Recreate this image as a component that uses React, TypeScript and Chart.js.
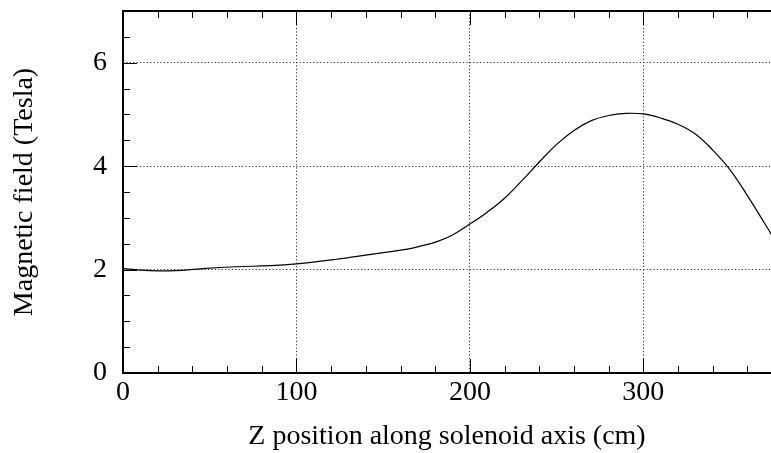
import { useEffect, useRef } from "react";
import { Chart, registerables } from "chart.js";

Chart.register(...registerables);

// Field strength on the solenoid axis, sampled along z (cm)
const zPositions = [
  0, 10, 20, 30, 46, 65, 85, 100, 123, 142, 161, 171, 181, 190, 200, 210, 220,
  230, 240, 250, 260, 270, 280, 290, 300, 310, 320, 330, 340, 350, 360, 370,
  374,
];
const fieldTesla = [
  2.02, 1.99, 1.975, 1.978, 2.02, 2.055, 2.075, 2.11, 2.2, 2.29, 2.38, 2.45,
  2.54, 2.67, 2.88, 3.11, 3.38, 3.72, 4.08, 4.42, 4.69, 4.88, 4.98, 5.02, 5.01,
  4.93, 4.81, 4.62, 4.31, 3.93, 3.43, 2.89, 2.67,
];

// Axis ranges and tick spacing
const xRange = [0, 373.6];
const yRange = [0, 7];
const xMinorStep = 20;
const xMajorStep = 100;
const yMinorStep = 0.5;
const yMajorStep = 2;

const xTitle = "Z position along solenoid axis (cm)";
const yTitle = "Magnetic field (Tesla)";

const serif = "'Liberation Serif', 'Times New Roman', Times, serif";
const labelFont = { family: serif, size: 28, lineHeight: 1.2 };

const isMultiple = (v: number, step: number) =>
  Math.abs(v / step - Math.round(v / step)) < 1e-6;

// Frame (left, top, bottom) with inward major/minor ticks, gnuplot style
const framePlugin = {
  id: "frame",
  afterDatasetsDraw(chart: any) {
    const { ctx, chartArea } = chart;
    const xs = chart.scales.x;
    const ys = chart.scales.y;
    const { left, right, top, bottom } = chartArea;
    ctx.save();
    ctx.strokeStyle = "#000";

    // ticks
    ctx.lineWidth = 1;
    ctx.beginPath();
    for (let v = xRange[0]; v <= xRange[1] + 1e-6; v += xMinorStep) {
      const px = Math.round(xs.getPixelForValue(v)) + 0.5;
      const len = isMultiple(v, xMajorStep) ? 14 : 7;
      ctx.moveTo(px, bottom);
      ctx.lineTo(px, bottom - len);
      ctx.moveTo(px, top);
      ctx.lineTo(px, top + len);
    }
    for (let v = yRange[0]; v <= yRange[1] + 1e-6; v += yMinorStep) {
      const py = Math.round(ys.getPixelForValue(v)) + 0.5;
      const len = isMultiple(v, yMajorStep) ? 14 : 7;
      ctx.moveTo(left, py);
      ctx.lineTo(left + len, py);
    }
    ctx.stroke();

    // frame lines
    ctx.lineWidth = 2;
    ctx.beginPath();
    ctx.moveTo(right + 2, top);
    ctx.lineTo(left, top);
    ctx.lineTo(left, bottom);
    ctx.lineTo(right + 2, bottom);
    ctx.stroke();
    ctx.restore();
  },
};

export default function App() {
  const canvasRef = useRef<HTMLCanvasElement | null>(null);

  useEffect(() => {
    const canvas = canvasRef.current;
    if (!canvas) return;

    const points = zPositions.map((z, i) => ({ x: z, y: fieldTesla[i] }));

    const chart = new Chart(canvas, {
      type: "line",
      data: {
        datasets: [
          {
            data: points,
            borderColor: "#000",
            borderWidth: 1.2,
            pointRadius: 0,
            fill: false,
            tension: 0.4,
          },
        ],
      },
      options: {
        animation: false,
        responsive: false,
        maintainAspectRatio: false,
        layout: { padding: { top: 11, right: 0, bottom: 0, left: 0 } },
        plugins: {
          legend: { display: false },
          tooltip: { enabled: false },
        },
        scales: {
          x: {
            type: "linear",
            min: xRange[0],
            max: xRange[1],
            afterFit: (s: any) => {
              s.height = 80;
              s.paddingLeft = 0;
              s.paddingRight = 0;
            },
            ticks: {
              stepSize: xMinorStep,
              autoSkip: false,
              maxRotation: 0,
              minRotation: 0,
              includeBounds: false,
              padding: 3,
              color: "#000",
              font: labelFont,
              callback: (v: any) =>
                isMultiple(Number(v), xMajorStep) ? String(v) : "",
            },
            grid: {
              drawTicks: false,
              lineWidth: 1,
              color: (c: any) => {
                const v = c.tick ? c.tick.value : 0;
                return v !== 0 && isMultiple(v, xMajorStep)
                  ? "#333"
                  : "rgba(0,0,0,0)";
              },
            },
            border: { display: false, dash: [1.2, 2.2] },
            title: {
              display: true,
              text: xTitle,
              color: "#000",
              font: labelFont,
              padding: { top: 0, bottom: 0 },
            },
          },
          y: {
            type: "linear",
            min: yRange[0],
            max: yRange[1],
            afterFit: (s: any) => {
              s.width = 123;
              s.paddingTop = 0;
              s.paddingBottom = 0;
            },
            ticks: {
              stepSize: yMinorStep,
              autoSkip: false,
              includeBounds: false,
              padding: 16,
              color: "#000",
              font: labelFont,
              callback: (v: any) =>
                isMultiple(Number(v), yMajorStep) ? String(v) : "",
            },
            grid: {
              drawTicks: false,
              lineWidth: 1,
              color: (c: any) => {
                const v = c.tick ? c.tick.value : 0;
                return v !== 0 && isMultiple(v, yMajorStep)
                  ? "#333"
                  : "rgba(0,0,0,0)";
              },
            },
            border: { display: false, dash: [1.2, 2.2] },
            title: {
              display: true,
              text: yTitle,
              color: "#000",
              font: labelFont,
              padding: { top: 8, bottom: 0 },
            },
          },
        },
      },
      plugins: [framePlugin],
    } as any);

    return () => chart.destroy();
  }, []);

  return (
    <div
      style={{
        position: "fixed",
        left: 0,
        top: 0,
        width: 771,
        height: 453,
        background: "#fff",
      }}
    >
      <canvas ref={canvasRef} width={771} height={453} />
    </div>
  );
}
